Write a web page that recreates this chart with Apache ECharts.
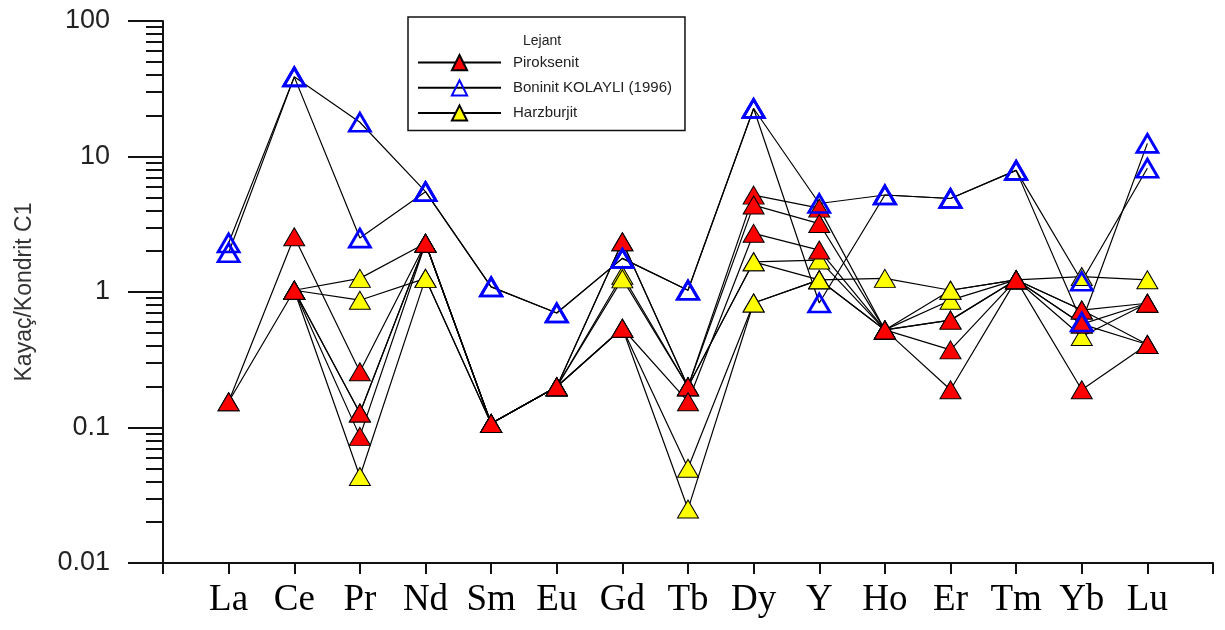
<!DOCTYPE html>
<html><head><meta charset="utf-8">
<script src="https://cdn.jsdelivr.net/npm/echarts@6/dist/echarts.min.js"></script>
<style>html,body{margin:0;padding:0;background:#fff}#c{width:1225px;height:630px}</style>
</head><body><div id="c"></div>
<script>
const categories = ['La','Ce','Pr','Nd','Sm','Eu','Gd','Tb','Dy','Y','Ho','Er','Tm','Yb','Lu'];
const groupNames = ['Piroksenit', 'Boninit KOLAYLI (1996)', 'Harzburjit'];

// Piroksenit samples
const piroksenitA = [0.155, 2.56, 0.258, 2.29, 0.107, 0.20, 2.35, 0.20, 5.19, 4.16, 0.525, 0.62, 1.23, 0.736, 0.826];
const piroksenitB = [0.155, 1.03, 0.128, 2.29, 0.107, 0.20, 2.35, 0.20, 4.38, 3.20, 0.525, 0.374, 1.23, 0.58, 0.41];
const piroksenitC = [null, 1.03, 0.086, 2.29, 0.107, 0.20, 0.54, 0.155, 2.71, 2.04, 0.525, 0.19, 1.23, 0.19, 0.41];

// Boninit KOLAYLI (1996) samples
const boninitA = [2.3, 38.7, 17.9, 5.5, 1.09, 0.70, 1.77, 1.03, 22.6, 4.5, 5.2, 4.9, 7.9, 0.6, 12.5];
const boninitB = [1.95, 38.7, 2.5, 5.5, 1.09, 0.70, 1.77, 1.03, 22.6, 0.83, 5.2, 4.9, 7.9, 1.2, 8.2];

// Harzburjit samples
const harzburjitA = [null, 1.03, 1.26, 2.29, 0.107, 0.20, 1.33, 0.20, 1.67, 1.72, 0.525, 0.87, 1.23, 0.47, 0.826];
const harzburjitB = [null, 1.03, 0.87, 1.26, 0.107, 0.20, 1.25, 0.20, 1.67, 1.23, 1.26, 1.03, 1.23, 1.30, 1.23];
const harzburjitC = [null, 1.03, 0.0435, 1.26, 0.107, 0.20, 0.54, 0.05, 0.83, 1.23, 0.525, 1.03, 1.23, 0.58, 0.826];
const harzburjitD = [null, 1.03, 0.128, 2.29, 0.107, 0.20, 0.54, 0.025, 0.83, 1.23, 0.525, 0.62, 1.23, 0.736, 0.41];

const styles = {
  'Piroksenit': {color: '#ff0000', borderColor: '#000', borderWidth: 1, opacity: 1},
  'Boninit KOLAYLI (1996)': {color: 'rgba(255,255,255,0)', borderColor: '#0000ff', borderWidth: 2.8, opacity: 1},
  'Harzburjit': {color: '#ffff00', borderColor: '#000', borderWidth: 1, opacity: 1}
};

// drawing order: Harzburjit first, then Piroksenit, Boninit on top
const groups = [
  ['Harzburjit', [harzburjitA, harzburjitB, harzburjitC, harzburjitD]],
  ['Piroksenit', [piroksenitA, piroksenitB, piroksenitC]],
  ['Boninit KOLAYLI (1996)', [boninitA, boninitB]]
];

function toPoints(values) {
  const out = [];
  values.forEach((v, i) => { if (v != null) out.push([i + 1, v]); });
  return out;
}

const series = [];
groups.forEach(([name, samples]) => {
  samples.forEach(s => {
    series.push({
      type: 'line', name: name, data: toPoints(s),
      symbol: 'triangle', showSymbol: false, symbolSize: [20, 17],
      lineStyle: {color: '#000', width: 1.2},
      itemStyle: styles[name],
      z: 2, silent: true, animation: false
    });
  });
});
groups.forEach(([name, samples]) => {
  samples.forEach(s => {
    series.push({
      type: 'scatter', name: name, data: toPoints(s),
      symbol: 'triangle', symbolSize: [21, 18],
      itemStyle: styles[name],
      z: 3, silent: true, animation: false
    });
  });
});

const chart = echarts.init(document.getElementById('c'), null, {renderer: 'canvas'});
chart.setOption({
  animation: false,
  backgroundColor: '#fff',
  title: {
    text: 'Lejant', left: 523, top: 34, padding: 0,
    textStyle: {fontSize: 14, fontWeight: 'normal', color: '#222', fontFamily: 'Liberation Sans'}
  },
  legend: {
    left: 408, top: 17, orient: 'vertical',
    padding: [37, 13, 9, 9],
    itemWidth: 83, itemHeight: 19, itemGap: 8,
    borderColor: '#111', borderWidth: 1.5,
    selectedMode: false,
    textStyle: {fontSize: 15, color: '#222', fontFamily: 'Liberation Sans', padding: [0, 0, 0, 7]},
    data: groupNames
  },
  grid: {left: 163, right: 12, top: 21, bottom: 67, containLabel: false, outerBoundsMode: 'none'},
  xAxis: {
    type: 'value', min: 0, max: 16, interval: 1,
    axisLine: {onZero: false, lineStyle: {color: '#111', width: 2}},
    axisTick: {show: true, length: 11, lineStyle: {color: '#111', width: 2}},
    splitLine: {show: false},
    axisLabel: {
      formatter: v => categories[v - 1] || '',
      fontFamily: 'Liberation Serif', fontSize: 37, color: '#000', margin: 19
    }
  },
  yAxis: {
    type: 'log', logBase: 10, min: 0.01, max: 100,
    axisLine: {show: true, lineStyle: {color: '#111', width: 2}},
    axisTick: {show: true, length: 35, lineStyle: {color: '#111', width: 2}},
    minorTick: {show: true, splitNumber: 9, length: 17, lineStyle: {color: '#111', width: 2}},
    splitLine: {show: false},
    minorSplitLine: {show: false},
    axisLabel: {fontSize: 27, color: '#222', margin: 53, fontFamily: 'Liberation Sans'},
    name: 'Kayaç/Kondrit C1', nameLocation: 'middle', nameGap: 127,
    nameTextStyle: {fontSize: 23, color: '#333', fontFamily: 'Liberation Sans'}
  },
  series: series
});
</script></body></html>
